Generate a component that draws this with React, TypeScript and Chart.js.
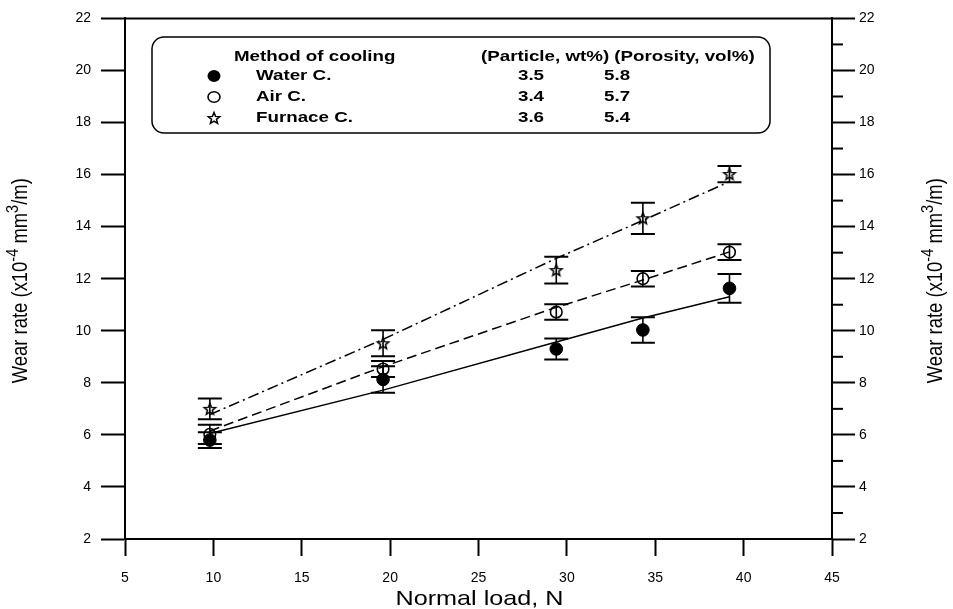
import React, { useEffect, useRef } from "react";
import { Chart, registerables } from "chart.js";

Chart.register(...registerables);

// ---------- data ----------
const loads = [9.8, 19.6, 29.4, 34.3, 39.2];

const waterRate = [5.8, 8.13, 9.3, 10.03, 11.63];
const waterErr = [0.3, 0.51, 0.4, 0.49, 0.55];
const airRate = [6.02, 8.53, 10.72, 12.0, 13.02];
const airErr = [0.37, 0.31, 0.3, 0.3, 0.3];
const furnaceRate = [7.0, 9.52, 12.33, 14.32, 16.02];
const furnaceErr = [0.4, 0.5, 0.51, 0.6, 0.31];

const waterFit = [6.05, 7.72, 9.57, 10.49, 11.31];
const airFit = [6.15, 8.62, 10.9, 11.95, 13.03];
const furnaceFit = [6.78, 9.67, 12.78, 14.24, 15.73];

const legendHeader = ["Method of cooling", "(Particle, wt%) (Porosity, vol%)"];
const methods = ["Water C.", "Air C.", "Furnace C."];
const particleWt = ["3.5", "3.4", "3.6"];
const porosityVol = ["5.8", "5.7", "5.4"];

const xTitle = "Normal load, N";
const yTitleParts = ["Wear rate (x10", "-4", " mm", "3", "/m)"];

const FONT = "'Liberation Sans', Arial, Helvetica, sans-serif";

function pts(ys: number[]) {
  return loads.map((x, i) => ({ x, y: ys[i] }));
}

function makeStar(): HTMLCanvasElement {
  const c = document.createElement("canvas");
  c.width = 16;
  c.height = 16;
  const g = c.getContext("2d")!;
  g.beginPath();
  for (let i = 0; i < 10; i++) {
    const r = i % 2 === 0 ? 6.0 : 2.6;
    const a = -Math.PI / 2 + (i * Math.PI) / 5;
    const px = 8 + r * Math.cos(a);
    const py = 8.5 + r * Math.sin(a);
    if (i === 0) g.moveTo(px, py);
    else g.lineTo(px, py);
  }
  g.closePath();
  g.fillStyle = "#fff";
  g.fill();
  g.strokeStyle = "#000";
  g.lineWidth = 1.5;
  g.stroke();
  return c;
}

export default function App() {
  const ref = useRef<HTMLCanvasElement>(null);

  useEffect(() => {
    const canvas = ref.current!;
    const star = makeStar();

    const errorSets = [
      { ys: waterRate, es: waterErr },
      { ys: airRate, es: airErr },
      { ys: furnaceRate, es: furnaceErr },
    ];

    const errorBars = {
      id: "errorBars",
      afterDatasetsDraw(chart: any) {
        const ctx = chart.ctx;
        const xs = chart.scales.x;
        const ys = chart.scales.y;
        ctx.save();
        ctx.strokeStyle = "#000";
        errorSets.forEach((s) => {
          loads.forEach((x, i) => {
            const px = xs.getPixelForValue(x);
            const top = ys.getPixelForValue(s.ys[i] + s.es[i]);
            const bot = ys.getPixelForValue(s.ys[i] - s.es[i]);
            ctx.lineWidth = 1.6;
            ctx.beginPath();
            ctx.moveTo(px, top);
            ctx.lineTo(px, bot);
            ctx.stroke();
            ctx.lineWidth = 2;
            ctx.beginPath();
            ctx.moveTo(px - 12, top);
            ctx.lineTo(px + 12, top);
            ctx.moveTo(px - 12, bot);
            ctx.lineTo(px + 12, bot);
            ctx.stroke();
          });
        });
        ctx.restore();
      },
    };

    const frame = {
      id: "frame",
      afterDraw(chart: any) {
        const ctx = chart.ctx;
        const a = chart.chartArea;
        const y2 = chart.scales.y2;
        ctx.save();
        ctx.strokeStyle = "#000";
        ctx.lineWidth = 2;
        ctx.beginPath();
        ctx.moveTo(a.left, a.top);
        ctx.lineTo(a.right, a.top);
        ctx.stroke();
        for (let v = y2.min + 1; v < y2.max; v += 2) {
          const py = y2.getPixelForValue(v);
          ctx.beginPath();
          ctx.moveTo(a.right, py);
          ctx.lineTo(a.right + 11, py);
          ctx.stroke();
        }
        ctx.restore();
      },
    };

    const drawYTitle = (ctx: CanvasRenderingContext2D, cx: number, cy: number) => {
      const big = `19px ${FONT}`;
      const small = `15px ${FONT}`;
      const fonts = [big, small, big, small, big];
      const shifts = [0, -7, 0, -7, 0];
      ctx.save();
      ctx.translate(cx, cy);
      ctx.rotate(-Math.PI / 2);
      ctx.scale(0.97, 1.15);
      let total = 0;
      yTitleParts.forEach((t, i) => {
        ctx.font = fonts[i];
        total += ctx.measureText(t).width;
      });
      let x = -total / 2;
      ctx.textBaseline = "middle";
      ctx.textAlign = "left";
      ctx.fillStyle = "#000";
      yTitleParts.forEach((t, i) => {
        ctx.font = fonts[i];
        ctx.fillText(t, x, shifts[i]);
        x += ctx.measureText(t).width;
      });
      ctx.restore();
    };

    const titles = {
      id: "titles",
      afterDraw(chart: any) {
        const ctx = chart.ctx;
        const a = chart.chartArea;
        ctx.save();
        ctx.fillStyle = "#000";
        ctx.font = `21px ${FONT}`;
        ctx.textAlign = "center";
        ctx.textBaseline = "middle";
        ctx.translate((a.left + a.right) / 2 + 1, 599);
        ctx.scale(1.2, 1);
        ctx.fillText(xTitle, 0, 0);
        ctx.restore();
        const cy = (a.top + a.bottom) / 2 + 2;
        drawYTitle(ctx, 21, cy);
        drawYTitle(ctx, 936, cy);
      },
    };

    const legendBox = {
      id: "legendBox",
      afterDraw(chart: any) {
        const ctx = chart.ctx;
        ctx.save();
        const bx = 152, by = 37, bw = 618, bh = 96, r = 12;
        ctx.beginPath();
        ctx.moveTo(bx + r, by);
        ctx.lineTo(bx + bw - r, by);
        ctx.arcTo(bx + bw, by, bx + bw, by + r, r);
        ctx.lineTo(bx + bw, by + bh - r);
        ctx.arcTo(bx + bw, by + bh, bx + bw - r, by + bh, r);
        ctx.lineTo(bx + r, by + bh);
        ctx.arcTo(bx, by + bh, bx, by + bh - r, r);
        ctx.lineTo(bx, by + r);
        ctx.arcTo(bx, by, bx + r, by, r);
        ctx.closePath();
        ctx.fillStyle = "#fff";
        ctx.fill();
        ctx.strokeStyle = "#000";
        ctx.lineWidth = 1.5;
        ctx.stroke();

        const sx = 1.25;
        const txt = (t: string, x: number, y: number, align: CanvasTextAlign = "left") => {
          ctx.save();
          ctx.translate(x, y);
          ctx.scale(sx, 1);
          ctx.textAlign = align;
          ctx.fillText(t, 0, 0);
          ctx.restore();
        };

        ctx.fillStyle = "#000";
        ctx.font = `bold 15px ${FONT}`;
        ctx.textBaseline = "middle";
        txt(legendHeader[0], 234, 57);
        txt(legendHeader[1], 481, 57);
        const rows = [76, 97, 118];
        methods.forEach((m, i) => {
          const y = rows[i];
          txt(m, 256, y);
          txt(particleWt[i], 531, y, "center");
          txt(porosityVol[i], 604, y);
        });
        ctx.beginPath();
        ctx.ellipse(214, rows[0], 6.5, 6, 0, 0, Math.PI * 2);
        ctx.fill();
        ctx.beginPath();
        ctx.ellipse(214, rows[1], 6, 5.3, 0, 0, Math.PI * 2);
        ctx.fillStyle = "#fff";
        ctx.fill();
        ctx.lineWidth = 1.6;
        ctx.stroke();
        ctx.drawImage(star, 214 - 8, rows[2] - 8);
        ctx.restore();
      },
    };

    const tickFont = { size: 14, family: FONT };

    const chart = new Chart(canvas, {
      type: "scatter",
      data: {
        datasets: [
          { label: "Water fit", data: pts(waterFit), showLine: true, borderColor: "#000", borderWidth: 1.5, pointRadius: 0 },
          { label: "Air fit", data: pts(airFit), showLine: true, borderColor: "#000", borderWidth: 1.5, borderDash: [10, 5], pointRadius: 0 },
          { label: "Furnace fit", data: pts(furnaceFit), showLine: true, borderColor: "#000", borderWidth: 1.5, borderDash: [11, 4, 2, 4], pointRadius: 0 },
          { label: "Water C.", data: pts(waterRate), pointStyle: "circle", pointRadius: 6.3, backgroundColor: "#000", borderColor: "#000", borderWidth: 1 },
          { label: "Air C.", data: pts(airRate), pointStyle: "circle", pointRadius: 5.8, backgroundColor: "rgba(255,255,255,0)", borderColor: "#000", borderWidth: 1.6 },
          { label: "Furnace C.", data: pts(furnaceRate), pointStyle: star as any, pointRadius: 6 },
        ],
      },
      options: {
        responsive: false,
        animation: false,
        events: [],
        layout: { padding: { top: 14, left: 0, right: 0, bottom: 0 } },
        plugins: { legend: { display: false }, tooltip: { enabled: false } },
        scales: {
          x: {
            type: "linear",
            position: "bottom",
            min: 5,
            max: 45,
            ticks: { stepSize: 5, color: "#000", font: tickFont, padding: 14, maxRotation: 0 },
            grid: { drawOnChartArea: false, tickLength: 17, tickWidth: 2, tickColor: "#000" },
            border: { display: true, color: "#000", width: 2 },
            afterFit: (s: any) => { s.height = 70; },
          },
          y: {
            type: "linear",
            position: "left",
            min: 2,
            max: 22,
            ticks: { stepSize: 2, color: "#000", font: tickFont, padding: 10 },
            grid: { drawOnChartArea: false, tickLength: 24, tickWidth: 2, tickColor: "#000" },
            border: { display: true, color: "#000", width: 2 },
            afterFit: (s: any) => { s.width = 125; },
          },
          y2: {
            type: "linear",
            position: "right",
            min: 2,
            max: 22,
            ticks: { stepSize: 2, color: "#000", font: tickFont, padding: 4 },
            grid: { drawOnChartArea: false, tickLength: 23, tickWidth: 2, tickColor: "#000" },
            border: { display: true, color: "#000", width: 2 },
            afterFit: (s: any) => { s.width = 121; },
          },
        },
      } as any,
      plugins: [errorBars, frame, titles, legendBox],
    });

    return () => chart.destroy();
  }, []);

  return (
    <div style={{ position: "absolute", left: 0, top: 0, width: 953, height: 609, background: "#fff" }}>
      <canvas ref={ref} width={953} height={609} style={{ display: "block", width: 953, height: 609 }} />
    </div>
  );
}
